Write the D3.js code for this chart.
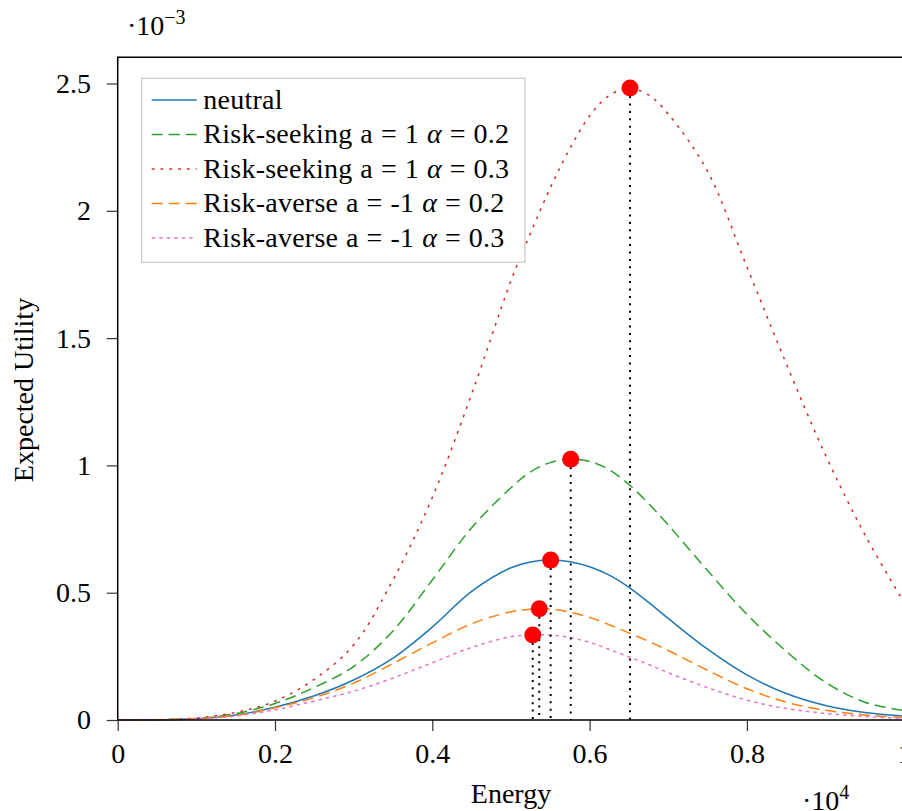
<!DOCTYPE html>
<html>
<head>
<meta charset="utf-8">
<script src="https://cdn.jsdelivr.net/npm/d3@7"></script>
<style>
  html, body { margin: 0; padding: 0; background: #fff; }
  svg { display: block; }
  text { font-family: "Liberation Serif", "Times New Roman", serif; fill: #000; }
</style>
</head>
<body>
<svg id="chart" width="902" height="811"></svg>
<script>
// Energy grid (x 10^4)
const energy = [0, 0.05, 0.1, 0.15, 0.2, 0.25, 0.3, 0.35, 0.4, 0.45, 0.5, 0.525, 0.55, 0.575,
                0.6, 0.625, 0.65, 0.675, 0.7, 0.75, 0.8, 0.85, 0.9, 0.95, 1.0];

// Expected utility per preference (x 10^-3)
const neutral     = [0, 0.001, 0.005, 0.02, 0.05, 0.095, 0.157, 0.243, 0.365, 0.505, 0.598, 0.621, 0.628, 0.622,
                     0.602, 0.569, 0.521, 0.462, 0.399, 0.278, 0.177, 0.104, 0.057, 0.029, 0.015];
const seeking02   = [0, 0.001, 0.006, 0.025, 0.065, 0.128, 0.21, 0.35, 0.55, 0.755, 0.912, 0.975, 1.011, 1.025,
                     1.015, 0.983, 0.925, 0.85, 0.766, 0.587, 0.415, 0.27, 0.148, 0.07, 0.037];
const seeking03   = [0, 0.001, 0.008, 0.03, 0.074, 0.16, 0.295, 0.55, 0.874, 1.28, 1.725, 1.913, 2.09, 2.245,
                     2.373, 2.453, 2.48, 2.455, 2.38, 2.155, 1.78, 1.40, 1.04, 0.728, 0.46];
const averse02    = [0, 0.001, 0.005, 0.018, 0.048, 0.088, 0.145, 0.222, 0.303, 0.378, 0.425, 0.435, 0.436, 0.423,
                     0.403, 0.374, 0.342, 0.309, 0.273, 0.195, 0.123, 0.07, 0.038, 0.02, 0.009];
const averse03    = [0, 0.001, 0.004, 0.016, 0.04, 0.075, 0.113, 0.165, 0.225, 0.285, 0.327, 0.333, 0.334, 0.324,
                     0.305, 0.277, 0.248, 0.218, 0.186, 0.127, 0.078, 0.045, 0.026, 0.014, 0.006];

// Optimum of each curve
const optEnergy  = [0.5505, 0.576, 0.6514, 0.536, 0.5277];
const optUtility = [0.628, 1.024, 2.482, 0.437, 0.334];

const seriesNames = ["neutral", "Risk-seeking a = 1 ", "Risk-seeking a = 1 ", "Risk-averse a = -1 ", "Risk-averse a = -1 "];
const seriesAlpha = [null, "0.2", "0.3", "0.2", "0.3"];
const seriesValues = [neutral, seeking02, seeking03, averse02, averse03];
const seriesColors = ["#1f77b4", "#2ca02c", "#d62728", "#ff7f0e", "#e377c2"];
const seriesDash   = [null, "11,6", "2.8,6", "11,6", "3.5,4"];

const xTicks = [0, 0.2, 0.4, 0.6, 0.8, 1];
const yTicks = [0, 0.5, 1, 1.5, 2, 2.5];
const xDomain = [0, 1];
const yDomain = [0, 2.603];

const svg = d3.select("#chart");
const FS = 28;

const x = d3.scaleLinear().domain(xDomain).range([117.7, 904.2]);
const y = d3.scaleLinear().domain(yDomain).range([720, 57.3]);

// axes with outward ticks
const xAxis = svg.append("g").attr("transform", `translate(0,${y(0)})`)
  .call(d3.axisBottom(x).tickValues(xTicks).tickSize(11).tickPadding(12)
        .tickFormat(d => String(d)));
const yAxis = svg.append("g").attr("transform", `translate(${x(0)},0)`)
  .call(d3.axisLeft(y).tickValues(yTicks).tickSize(11).tickPadding(15.7)
        .tickFormat(d => String(d)));
[xAxis, yAxis].forEach(g => {
  g.select(".domain").remove();
  g.selectAll(".tick line").attr("stroke", "#333").attr("stroke-width", 1.2);
  g.selectAll(".tick text").attr("font-size", FS).attr("fill", "#000");
});

// curves
const line = d3.line()
  .x((d, i) => x(energy[i]))
  .y(d => y(d))
  .curve(d3.curveCatmullRom.alpha(0.5));

const plot = svg.append("g");
seriesValues.forEach((vals, k) => {
  plot.append("path")
    .attr("d", line(vals))
    .attr("fill", "none")
    .attr("stroke", seriesColors[k])
    .attr("stroke-width", 1.5)
    .attr("stroke-dasharray", seriesDash[k]);
});

// drop lines from each optimum to the energy axis
optEnergy.forEach((e, i) => {
  plot.append("line")
    .attr("x1", x(e)).attr("x2", x(e))
    .attr("y1", y(optUtility[i]) + 8).attr("y2", y(0))
    .attr("stroke", "#000").attr("stroke-width", 2)
    .attr("stroke-dasharray", "2,5.4");
});

// optimum markers
plot.selectAll("circle.opt").data(optEnergy).join("circle")
  .attr("class", "opt")
  .attr("cx", d => x(d))
  .attr("cy", (d, i) => y(optUtility[i]))
  .attr("r", 8.5)
  .attr("fill", "#ff0000");

// plot frame (left, top, bottom)
svg.append("path")
  .attr("d", `M${x(1)},${y(yDomain[1])}H${x(0)}V${y(0)}H${x(1)}`)
  .attr("stroke", "#000").attr("stroke-width", 1.5).attr("fill", "none");

// legend
const lg = svg.append("g");
lg.append("rect")
  .attr("x", 141.7).attr("y", 78.3).attr("width", 383.3).attr("height", 184)
  .attr("fill", "#fff").attr("fill-opacity", 0.9)
  .attr("stroke", "#cccccc").attr("stroke-width", 1.3);
seriesNames.forEach((name, k) => {
  const base = 108.9 + k * 34.45;
  lg.append("line")
    .attr("x1", 151.7).attr("x2", 196.7)
    .attr("y1", base - 8.8).attr("y2", base - 8.8)
    .attr("stroke", seriesColors[k]).attr("stroke-width", 1.5)
    .attr("stroke-dasharray", seriesDash[k]);
  const t = lg.append("text").attr("x", 203.3).attr("y", base).attr("font-size", FS)
    .attr("letter-spacing", 0.25).attr("word-spacing", 0.6)
    .attr("xml:space", "preserve");
  t.append("tspan").text(name);
  if (seriesAlpha[k] !== null) {
    t.append("tspan").attr("font-style", "italic").text("α");
    t.append("tspan").text(" = " + seriesAlpha[k]);
  }
});

// axis titles
svg.append("text")
  .attr("x", 511).attr("y", 803.3)
  .attr("text-anchor", "middle").attr("font-size", FS)
  .text("Energy");
svg.append("text")
  .attr("transform", `translate(33,390) rotate(-90)`)
  .attr("text-anchor", "middle").attr("font-size", FS)
  .text("Expected Utility");

// scale factors
const yScaleLbl = svg.append("text").attr("x", 127).attr("y", 35).attr("font-size", FS);
yScaleLbl.append("tspan").text("·10");
yScaleLbl.append("tspan").attr("font-size", 20).attr("dy", -11).text("−3");

const xScaleLbl = svg.append("text").attr("x", 802).attr("y", 809.5).attr("font-size", FS);
xScaleLbl.append("tspan").text("·10");
xScaleLbl.append("tspan").attr("font-size", 20).attr("dy", -11).text("4");
</script>
</body>
</html>
